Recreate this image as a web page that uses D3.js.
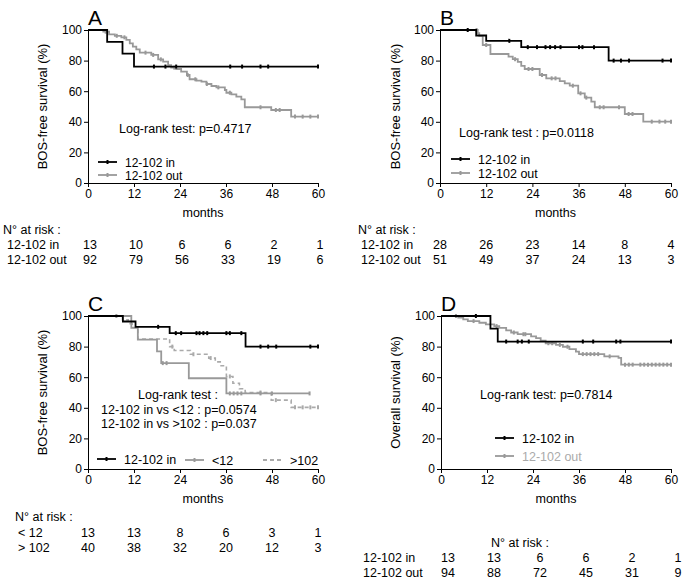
<!DOCTYPE html>
<html><head><meta charset="utf-8">
<script src="https://cdn.jsdelivr.net/npm/d3@7"></script>
<style>body{margin:0;background:#fff}svg{font-family:"Liberation Sans",Arial,sans-serif}</style>
</head><body><svg id="c" width="686" height="580"></svg>
<script>
const xTicks = [0,12,24,36,48,60];
const yTicks = [0,20,40,60,80,100];
const BLACK = "#000", GRAY = "#999";

// Panel A
const A_inEvents = [[5,92.3],[9,84.6],[12,76.1]];
const A_inCensor = [17.2,20.2,23,37.1,40.2,45,47,60];
const A_outEvents = [[4,98.9],[5.5,97.2],[7,96.2],[8.7,95.2],[10,93.5],[10.9,91.3],[11.7,89.1],[12.6,87.4],[13.5,85.2],[16.5,83.7],[18.3,80.8],[19.6,79.3],[20.9,77.1],[21.7,75.4],[23,74.5],[24.3,72.8],[25.8,70.6],[26.5,67.8],[28.3,66.9],[29.6,66.2],[30.9,64.7],[32.2,63.4],[33.5,62.5],[35.7,60.8],[36.1,59],[37.4,57.9],[38.7,56.4],[40,54.7],[40.9,49.5],[47.8,47.7],[53,43.4]];
const A_outCensor = [4.6,7.5,9.5,15,17,19,22.5,26,28,31,34,37,45,49,50,54,56,58,60];
const A_riskIn = [13,10,6,6,2,1];
const A_riskOut = [92,79,56,33,19,6];

// Panel B
const B_inEvents = [[9.4,96.4],[12,92.9],[21.1,88.8],[43.8,80]];
const B_inCensor = [7.2,18,22.8,25.2,27.4,28.6,29.9,31.3,36.1,37,40,45.1,47,49.1,57.8,60];
const B_outEvents = [[9.8,98],[10.2,96.1],[11.1,90.2],[13.1,84.3],[17.8,82.6],[18.9,80.9],[20.2,79.2],[21.1,76.6],[22,74.5],[25.9,70.6],[27.6,68.4],[31.1,66.6],[32.4,65.1],[33.7,63.6],[35.9,58.6],[37.6,55.8],[39.3,53.2],[40.2,49.5],[48,45.1],[52.8,40.1]];
const B_outCensor = [9.5,12,19.5,23,24,26.5,29,30,34.5,36.5,38,41.5,42.5,46.5,49,50,55,57,58.5,60];
const B_riskIn = [28,26,23,14,8,4];
const B_riskOut = [51,49,37,24,13,3];

// Panel C
const C_inEvents = [[9.1,96.4],[12.4,92.9],[21.3,88.8],[41.1,80]];
const C_inCensor = [18.3,22.9,24.3,28.3,29.1,30.1,31.1,36.1,37,40,45,47,49.1,58,60];
const C_lt12Events = [[11.3,92.3],[13,84.6],[18,76.9],[19.1,69.2],[26.3,59.3],[36.1,49.4]];
const C_lt12Censor = [7.4,19.5,20.5,37,38,39,40,45,48,57.8];
const C_gt102Events = [[9,97.5],[10.5,95],[11.5,92.5],[13,85],[21.3,80],[22.5,77.5],[26.7,75],[31.5,72.5],[33.2,70],[34.5,67.5],[36.1,60.5],[37.8,56],[39.5,52.5],[41,50],[47.8,45],[53,40.3]];
const C_gt102Censor = [22,27.5,32,37,45,49,54,56,58,60];
const C_riskLt12 = [13,13,8,6,3,1];
const C_riskGt102 = [40,38,32,20,12,3];

// Panel D
const D_inEvents = [[12.9,91.7],[14.8,83.3]];
const D_inCensor = [9.1,17,20,21.1,22.9,37,39.7,45.7,46.8,60];
const D_outEvents = [[4.5,98.9],[5.8,97.8],[7,96.7],[10,95.6],[11.7,94.5],[13.9,93.4],[15.2,92.3],[17,90.6],[18.3,89.2],[20,88.1],[23.5,86.7],[24.8,85.5],[26,83.9],[27.3,82.2],[30,81.1],[31.8,79.9],[33.5,78.4],[35.2,76.7],[36,75.1],[42.6,73.6],[46.3,72.6],[47,68.2]];
const D_outCensor = [3.9,8.5,14.5,19,21.5,22,28,29,31,33,37,38,39,40,41,44,48,49,50,52,53,54,55,56,57,58,59,60];
const D_riskIn = [13,13,6,6,2,1];
const D_riskOut = [94,88,72,45,31,9];

const svg = d3.select("#c");

function survAt(events, t){ let s=100; for(const e of events){ if(e[0]<=t) s=e[1]; } return s; }

function panel(o){
  const g = svg.append("g");
  const x = d3.scaleLinear().domain([0,60]).range([o.x0,o.x1]);
  const y = d3.scaleLinear().domain([0,100]).range([o.y0,o.y1]);
  g.append("g").attr("transform",`translate(${o.x0},0)`)
    .call(d3.axisLeft(y).tickValues(yTicks).tickSize(4).tickPadding(2))
    .call(a=>a.selectAll("text").attr("font-size",12).attr("font-family","Liberation Sans, Arial"));
  g.append("g").attr("transform",`translate(0,${o.y0})`)
    .call(d3.axisBottom(x).tickValues(xTicks).tickSize(4).tickPadding(2))
    .call(a=>a.selectAll("text").attr("font-size",12).attr("font-family","Liberation Sans, Arial"));
  g.selectAll(".domain,.tick line").attr("stroke","#000");
  g.append("text").attr("x",o.x0).attr("y",o.y1-5).attr("font-size",21).text(o.letter);
  g.append("text").attr("transform",`translate(${o.ylx},${(o.y0+o.y1)/2}) rotate(-90)`)
    .attr("text-anchor","middle").attr("font-size",13).text(o.ylabel);
  g.append("text").attr("x",(o.x0+o.x1)/2).attr("y",o.y0+34).attr("text-anchor","middle").attr("font-size",12.5).text("months");
  o.curves.forEach(c=>{
    const pts=[[0,100]]; let s=100;
    c.events.forEach(e=>{pts.push([e[0],s]);pts.push([e[0],e[1]]);s=e[1];});
    pts.push([c.end,s]);
    g.append("path").attr("d",d3.line().x(d=>x(d[0])).y(d=>y(d[1]))(pts))
      .attr("fill","none").attr("stroke",c.color).attr("stroke-width",c.w||1.8)
      .attr("stroke-dasharray",c.dash||null);
    g.selectAll(null).data(c.censor).enter().append("line")
      .attr("x1",d=>x(d)).attr("x2",d=>x(d))
      .attr("y1",d=>y(survAt(c.events,d))-2).attr("y2",d=>y(survAt(c.events,d))+2)
      .attr("stroke",c.color).attr("stroke-width",2);
  });
  o.legend.forEach(l=>{
    g.append("line").attr("x1",l.x).attr("x2",l.x+19).attr("y1",l.y).attr("y2",l.y)
      .attr("stroke",l.color).attr("stroke-width",1.8).attr("stroke-dasharray",l.dash||null);
    if(!l.dash) g.append("line").attr("x1",l.x+9.5).attr("x2",l.x+9.5).attr("y1",l.y-2).attr("y2",l.y+2).attr("stroke",l.color).attr("stroke-width",2);
    g.append("text").attr("x",l.x+27).attr("y",l.y+4.5).attr("font-size",l.fs||12.5).attr("fill",l.tcolor||"#000").text(l.text);
  });
  o.notes.forEach(n=>g.append("text").attr("x",n.x).attr("y",n.y).attr("font-size",12.5).text(n.t));
  // risk table
  const r=o.risk;
  g.append("text").attr("x",r.hx).attr("y",r.hy).attr("font-size",12.5).attr("text-anchor",r.ha||"start").text("N° at risk :");
  r.rows.forEach((row,i)=>{
    const yy=r.y+i*14.5;
    g.append("text").attr("x",r.lx).attr("y",yy).attr("font-size",12.5).text(row.label);
    g.selectAll(null).data(row.vals).enter().append("text")
      .attr("x",(d,j)=>x(xTicks[j])+r.dx).attr("y",yy).attr("text-anchor","middle").attr("font-size",12.5).text(d=>d);
  });
}

panel({x0:88,x1:318,y0:183,y1:30,letter:"A",ylx:47,ylabel:"BOS-free survival (%)",
  curves:[{events:A_outEvents,censor:A_outCensor,end:60,color:GRAY},{events:A_inEvents,censor:A_inCensor,end:60,color:BLACK}],
  legend:[{x:98,y:162,color:BLACK,text:"12-102 in",fs:12},{x:98,y:175,color:GRAY,text:"12-102 out",fs:12}],
  notes:[{x:119,y:133,t:"Log-rank test: p=0.4717"}],
  risk:{hx:3,hy:234,lx:7,y:249,dx:2,rows:[{label:"12-102 in",vals:A_riskIn},{label:"12-102 out",vals:A_riskOut}]}});

panel({x0:440,x1:671,y0:183,y1:30,letter:"B",ylx:400,ylabel:"BOS-free survival (%)",
  curves:[{events:B_outEvents,censor:B_outCensor,end:60,color:GRAY},{events:B_inEvents,censor:B_inCensor,end:60,color:BLACK}],
  legend:[{x:451,y:159,color:BLACK,text:"12-102 in"},{x:451,y:173,color:GRAY,text:"12-102 out"}],
  notes:[{x:459,y:137,t:"Log-rank test : p=0.0118"}],
  risk:{hx:358,hy:234,lx:361,y:249,dx:0,rows:[{label:"12-102 in",vals:B_riskIn},{label:"12-102 out",vals:B_riskOut}]}});

panel({x0:88,x1:318,y0:469,y1:316,letter:"C",ylx:47,ylabel:"BOS-free survival (%)",
  curves:[{events:C_gt102Events,censor:C_gt102Censor,end:60,color:"#aaa",dash:"4,3",w:1.6},{events:C_lt12Events,censor:C_lt12Censor,end:57.8,color:GRAY},{events:C_inEvents,censor:C_inCensor,end:60,color:BLACK}],
  legend:[{x:97,y:459,color:BLACK,text:"12-102 in"},{x:185,y:460,color:GRAY,text:"<12"},{x:263,y:460,color:"#aaa",text:">102",dash:"4,3"}],
  notes:[{x:138,y:399,t:"Log-rank test :"},{x:101,y:414,t:"12-102 in vs <12 : p=0.0574"},{x:101,y:428,t:"12-102 in vs >102 : p=0.037"}],
  risk:{hx:15,hy:521,lx:18,y:537,dx:0,rows:[{label:"< 12",vals:C_riskLt12},{label:"> 102",vals:C_riskGt102}]}});

panel({x0:441,x1:671,y0:469,y1:316,letter:"D",ylx:400,ylabel:"Overall survival  (%)",
  curves:[{events:D_outEvents,censor:D_outCensor,end:60,color:GRAY},{events:D_inEvents,censor:D_inCensor,end:60,color:BLACK}],
  legend:[{x:495,y:438,color:BLACK,text:"12-102 in"},{x:495,y:456,color:GRAY,text:"12-102 out",tcolor:"#aaa"}],
  notes:[{x:480,y:399,t:"Log-rank test: p=0.7814"}],
  risk:{hx:520,hy:547,ha:"middle",lx:363,y:562,dx:7,rows:[{label:"12-102 in",vals:D_riskIn},{label:"12-102 out",vals:D_riskOut}]}});
</script></body></html>
